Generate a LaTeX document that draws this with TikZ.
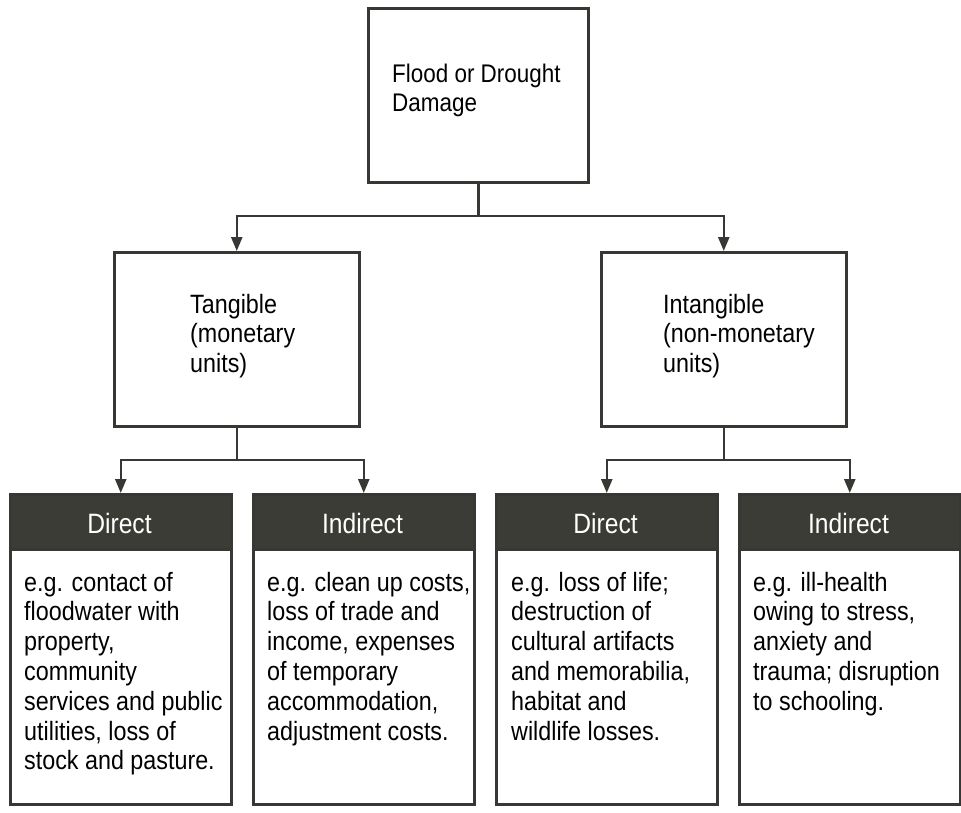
\documentclass[tikz,border=0pt]{standalone}
\usepackage{fontspec}
\setmainfont{Liberation Sans}[FakeStretch=0.88]
\usetikzlibrary{arrows.meta}

\definecolor{ink}{RGB}{55,55,52}
\definecolor{bandgray}{RGB}{60,60,54}

\newcommand\topfont{\fontsize{25.5}{29}\selectfont}
\newcommand\midfont{\fontsize{26.5}{29.5}\selectfont}
\newcommand\headfont{\fontsize{28}{32}\selectfont}
\newcommand\bodyfont{\fontsize{26.5}{29.8}\selectfont}

\begin{document}
\begin{tikzpicture}[x=1pt,y=-1pt,
  box/.style={rectangle, draw=ink, line width=2.5pt, fill=white, inner sep=0pt, anchor=north west},
  headband/.style={rectangle, draw=ink, fill=bandgray, line width=2.5pt, inner sep=0pt,
    anchor=north west, minimum width=221pt, minimum height=55pt},
  headlabel/.style={anchor=base, inner sep=0pt, text=white, font=\headfont},
  textnode/.style={anchor=base west, inner sep=0pt},
  link/.style={draw=ink, line width=2.5pt, line join=miter},
  arrow/.style={link, -{Triangle[length=14pt,width=11pt]}}
]
\useasboundingbox (0,0) rectangle (961,812);

% root
\node[box, minimum width=220pt, minimum height=174pt] (top) at (367,7) {};
\node[textnode] (toptext) at (392,82)
  {\parbox[t]{190pt}{\raggedright\topfont Flood or Drought\\Damage}};

% second level
\node[box, minimum width=245pt, minimum height=174pt] (tang) at (113,251) {};
\node[textnode] (tangtext) at (190,313)
  {\parbox[t]{160pt}{\raggedright\midfont Tangible\\(monetary\\units)}};

\node[box, minimum width=245pt, minimum height=174pt] (intang) at (600,251) {};
\node[textnode] (intangtext) at (663,313)
  {\parbox[t]{175pt}{\raggedright\midfont Intangible\\(non-monetary\\units)}};

% third level: tangible, direct
\node[box, minimum width=221pt, minimum height=310pt] (d1) at (9,493) {};
\node[headband] (d1h) at (9,493) {};
\node[headlabel] (d1l) at (119.5,533) {Direct};
\node[textnode] (d1t) at (24,591)
  {\parbox[t]{205pt}{\raggedright\bodyfont e.g. contact of\\floodwater with\\property,\\community\\services and public\\utilities, loss of\\stock and pasture.}};

% tangible, indirect
\node[box, minimum width=221pt, minimum height=310pt] (d2) at (252,493) {};
\node[headband] (d2h) at (252,493) {};
\node[headlabel] (d2l) at (362.5,533) {Indirect};
\node[textnode] (d2t) at (267,591)
  {\parbox[t]{205pt}{\raggedright\bodyfont e.g. clean up costs,\\loss of trade and\\income, expenses\\of temporary\\accommodation,\\adjustment costs.}};

% intangible, direct
\node[box, minimum width=221pt, minimum height=310pt] (d3) at (495,493) {};
\node[headband] (d3h) at (495,493) {};
\node[headlabel] (d3l) at (605.5,533) {Direct};
\node[textnode] (d3t) at (511,591)
  {\parbox[t]{205pt}{\raggedright\bodyfont e.g. loss of life;\\destruction of\\cultural artifacts\\and memorabilia,\\habitat and\\wildlife losses.}};

% intangible, indirect
\node[box, minimum width=221pt, minimum height=310pt] (d4) at (738,493) {};
\node[headband] (d4h) at (738,493) {};
\node[headlabel] (d4l) at (848.5,533) {Indirect};
\node[textnode] (d4t) at (753,591)
  {\parbox[t]{205pt}{\raggedright\bodyfont e.g. ill-health\\owing to stress,\\anxiety and\\trauma; disruption\\to schooling.}};

% connectors
\coordinate (j0) at (top.south |- 0,216);
\draw[link] (top.south) -- (j0);
\draw[arrow] (j0) -| (tang.north);
\draw[arrow] (j0) -| (intang.north);

\coordinate (j1) at (tang.south |- 0,460);
\draw[link] (tang.south) -- (j1);
\draw[arrow] (j1) -| (d1.north);
\draw[arrow] (j1) -| (d2.north);

\coordinate (j2) at (intang.south |- 0,460);
\draw[link] (intang.south) -- (j2);
\draw[arrow] (j2) -| (d3.north);
\draw[arrow] (j2) -| (d4.north);
\end{tikzpicture}
\end{document}
